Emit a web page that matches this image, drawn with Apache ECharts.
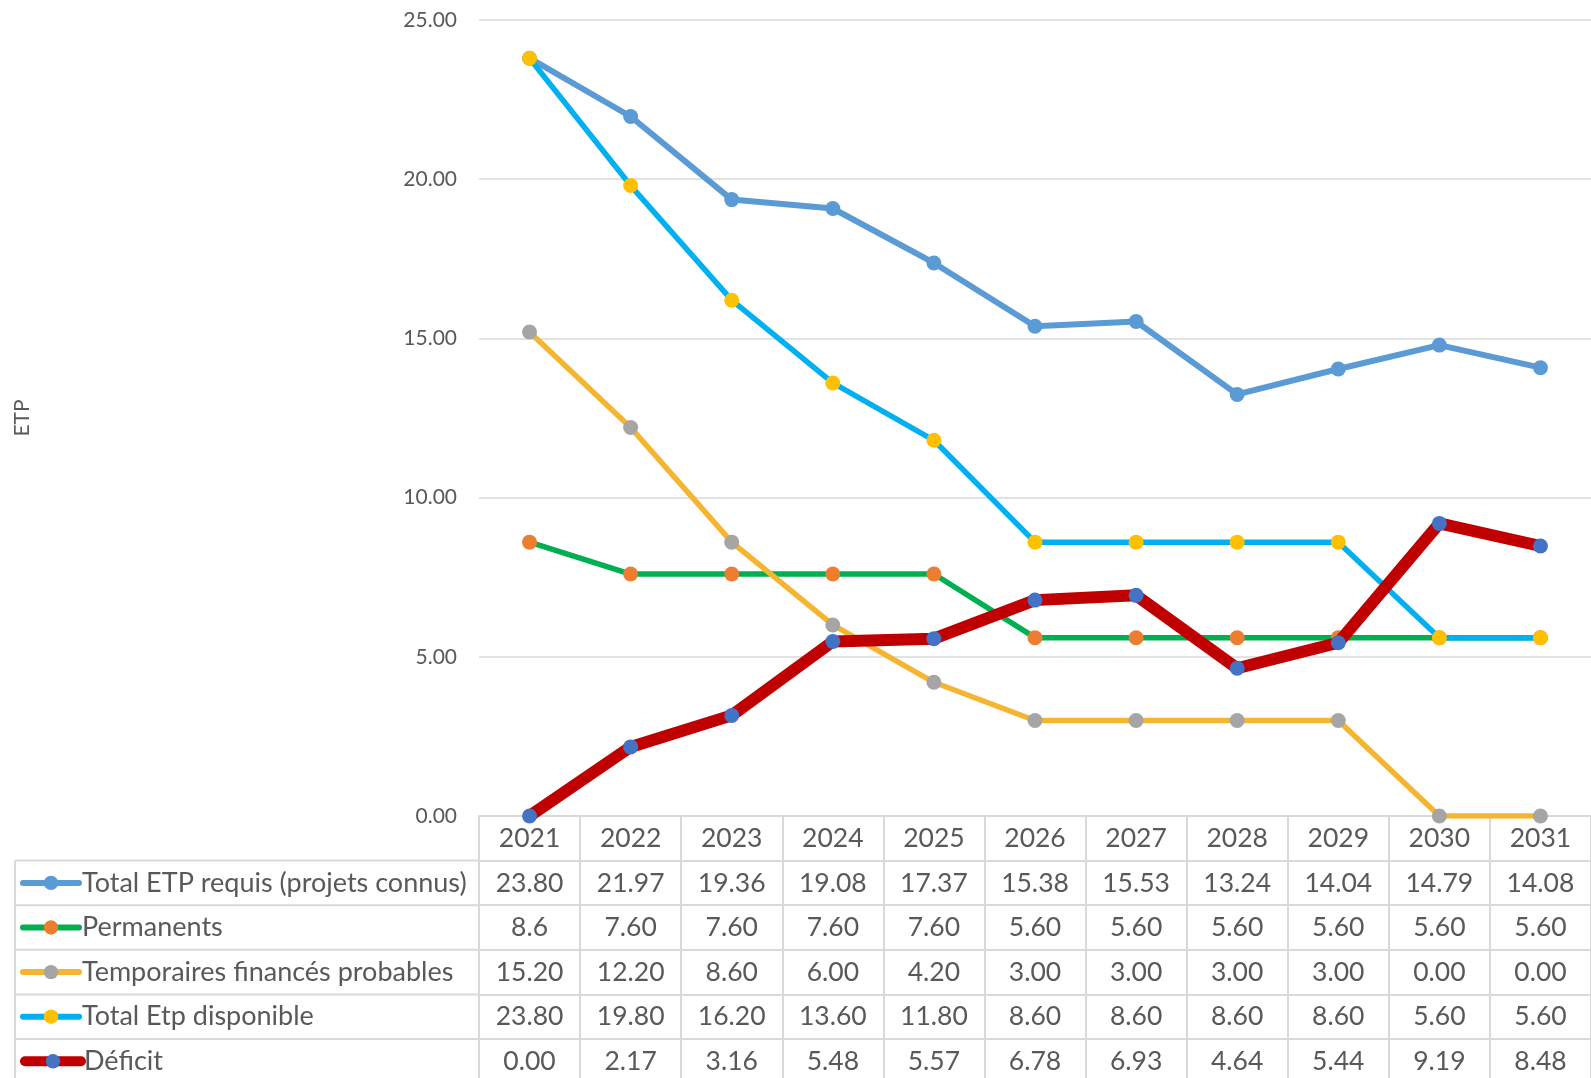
<!DOCTYPE html>
<html><head><meta charset="utf-8">
<script src="https://cdn.jsdelivr.net/npm/echarts@6/dist/echarts.min.js"></script>
<style>html,body{margin:0;padding:0;background:#fff}#c{width:1591px;height:1078px}</style>
</head><body><div id="c"></div>
<script>
const years = ['2021','2022','2023','2024','2025','2026','2027','2028','2029','2030','2031'];
const seriesNames = ['Total ETP requis (projets connus)','Permanents','Temporaires financés probables','Total Etp disponible','Déficit'];
// values as shown in the data table
const totalRequis   = ['23.80','21.97','19.36','19.08','17.37','15.38','15.53','13.24','14.04','14.79','14.08'];
const permanents    = ['8.6','7.60','7.60','7.60','7.60','5.60','5.60','5.60','5.60','5.60','5.60'];
const temporaires   = ['15.20','12.20','8.60','6.00','4.20','3.00','3.00','3.00','3.00','0.00','0.00'];
const totalDispo    = ['23.80','19.80','16.20','13.60','11.80','8.60','8.60','8.60','8.60','5.60','5.60'];
const deficit       = ['0.00','2.17','3.16','5.48','5.57','6.78','6.93','4.64','5.44','9.19','8.48'];
const yTicks = [0, 5, 10, 15, 20, 25];

const rows = [totalRequis, permanents, temporaires, totalDispo, deficit];
const styles = [
  {line:'#5B9BD5', width:6, marker:'#5B9BD5', legendW:6},
  {line:'#00B050', width:5.5, marker:'#ED7D31', legendW:6},
  {line:'#F6B530', width:5.5, marker:'#A5A5A5', legendW:6},
  {line:'#00B0F0', width:5.5, marker:'#FFC000', legendW:6},
  {line:'#C00000', width:12, marker:'#4472C4', legendW:10}
];

const FONT = 'Lato';
const TXT = '#595959';
const GRID_C = '#D9D9D9';
const plotTop = 20, axisY = 816, H = 1078, rowH = 44.6, leftX = 479, tableLeft = 15;
const tableFont = 26.5, legendFont = 27;

const chart = echarts.init(document.getElementById('c'), null, {renderer:'canvas'});

const xAxes = [{
  type:'category', data: years, gridIndex:0, position:'bottom',
  axisLine:{show:true, lineStyle:{color:GRID_C, width:2}},
  axisTick:{show:true, interval:0, length: H - axisY, lineStyle:{color:GRID_C, width:2}},
  axisLabel:{interval:0, margin:9, color:TXT, fontSize:tableFont, fontFamily:FONT},
  splitLine:{show:false}
}];
rows.forEach((r, k) => {
  xAxes.push({
    type:'category', data: years, gridIndex:0, position:'bottom', offset: rowH*(k+1),
    axisLine:{show:true, lineStyle:{color:GRID_C, width:2}},
    axisTick:{show:false},
    axisLabel:{interval:0, margin:9, color:TXT, fontSize:tableFont, fontFamily:FONT,
      formatter:(v, i) => r[i]},
    splitLine:{show:false}
  });
});

const series = rows.map((r, k) => ({
  name: seriesNames[k], type:'line', xAxisIndex:0, yAxisIndex:0,
  data: r.map(parseFloat),
  symbol:'circle', symbolSize: 15, showSymbol:true,
  lineStyle:{color:styles[k].line, width:styles[k].width},
  itemStyle:{color:styles[k].marker, borderColor:styles[k].marker, borderWidth:0},
  emphasis:{disabled:true}, animation:false, z: 2 + k
}));

const legends = seriesNames.map((n, k) => ({
  orient:'horizontal', left:20, top: axisY + rowH*(k+1) + rowH/2 - 15, padding:0,
  itemWidth:56, itemHeight:18,
  lineStyle:{width: styles[k].legendW, color: styles[k].line, cap:'round'},
  itemStyle:{color: styles[k].marker, borderColor: styles[k].marker, borderWidth:0},
  textStyle:{color:TXT, fontSize:legendFont, fontFamily:FONT, lineHeight:30, padding:[0,0,0,-2]},
  data:[n], selectedMode:false
}));

const graphics = [];
for (let k = 0; k < rows.length; k++) {
  const y = axisY + rowH*(k+1);
  graphics.push({type:'line', shape:{x1:tableLeft, y1:y, x2:leftX, y2:y}, style:{stroke:GRID_C, lineWidth:2}, silent:true});
}
graphics.push({type:'line', shape:{x1:tableLeft, y1:axisY+rowH, x2:tableLeft, y2:H}, style:{stroke:GRID_C, lineWidth:2}, silent:true});

chart.setOption({
  animation:false,
  backgroundColor:'#fff',
  grid:{left:leftX, right:0, top:plotTop, bottom:H-axisY, containLabel:false},
  xAxis: xAxes,
  yAxis:{
    type:'value', min:yTicks[0], max:yTicks[yTicks.length-1], interval:5,
    name:'ETP', nameLocation:'middle', nameGap:446, nameRotate:90,
    nameTextStyle:{color:TXT, fontSize:21, fontFamily:FONT},
    axisLine:{show:false}, axisTick:{show:false},
    axisLabel:{color:TXT, fontSize:21, fontFamily:FONT, margin:22, formatter:v => v.toFixed(2)},
    splitLine:{lineStyle:{color:GRID_C, width:1.5}}
  },
  legend: legends,
  graphic: graphics,
  series: series
});
</script></body></html>
